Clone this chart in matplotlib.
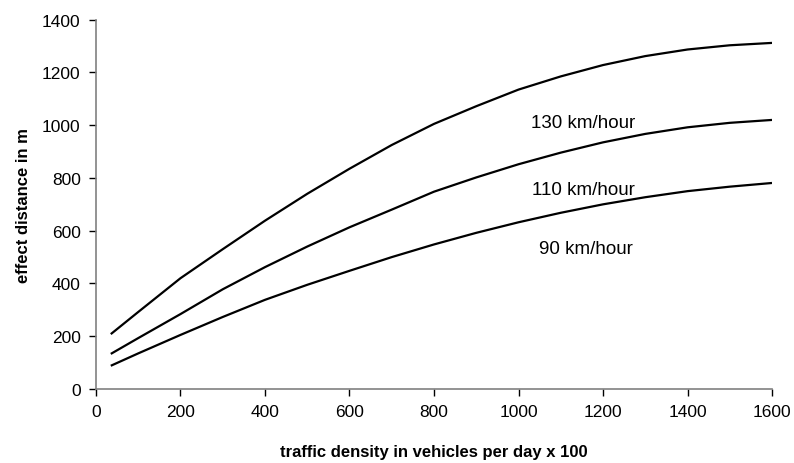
import matplotlib
matplotlib.use("Agg")
import matplotlib.pyplot as plt

plt.rcParams['font.family'] = ['Liberation Sans', 'DejaVu Sans']

# traffic density (vehicles per day x 100)
density = [35, 100, 200, 300, 400, 500, 600, 700, 800, 900, 1000,
           1100, 1200, 1300, 1400, 1500, 1600]

# effect distance (m) for each speed
dist_130 = [208, 292, 420, 530, 638, 740, 835, 925, 1005, 1072, 1135,
            1185, 1228, 1262, 1287, 1303, 1312]
dist_110 = [133, 193, 284, 378, 462, 540, 613, 680, 748, 802, 852,
            896, 935, 967, 992, 1009, 1020]
dist_90 = [88, 135, 205, 273, 338, 395, 448, 500, 548, 592, 632,
           668, 700, 727, 750, 767, 781]

speed_labels = ["130 km/hour", "110 km/hour", "90 km/hour"]
label_pos = [(1153, 1012), (1153, 758), (1160, 531)]

x_ticks = [0, 200, 400, 600, 800, 1000, 1200, 1400, 1600]
y_ticks = [0, 200, 400, 600, 800, 1000, 1200, 1400]

fig = plt.figure(figsize=(7.94, 4.64), dpi=100)
ax = fig.add_axes([0.1209, 0.1595, 0.8514, 0.7959])

for series in (dist_130, dist_110, dist_90):
    ax.plot(density, series, color='black', lw=1.6, solid_capstyle='butt',
            solid_joinstyle='round')

for text, (tx, ty) in zip(speed_labels, label_pos):
    ax.text(tx, ty, text, ha='center', va='center', fontsize=13.5)

ax.set_xlim(0, 1600)
ax.set_ylim(0, 1400)
ax.set_xticks(x_ticks)
ax.set_yticks(y_ticks)
ax.tick_params(labelsize=12.5, length=5, width=1, color='black',
               direction='out', pad=6)

for side in ('top', 'right'):
    ax.spines[side].set_visible(False)
for side in ('left', 'bottom'):
    ax.spines[side].set_color('#808080')
    ax.spines[side].set_linewidth(1.2)

ax.set_xlabel("traffic density in vehicles per day x 100", fontsize=12,
              fontweight='bold', labelpad=18)
ax.set_ylabel("effect distance in m", fontsize=12, fontweight='bold', labelpad=8)

fig.savefig("out.png", dpi=100)
